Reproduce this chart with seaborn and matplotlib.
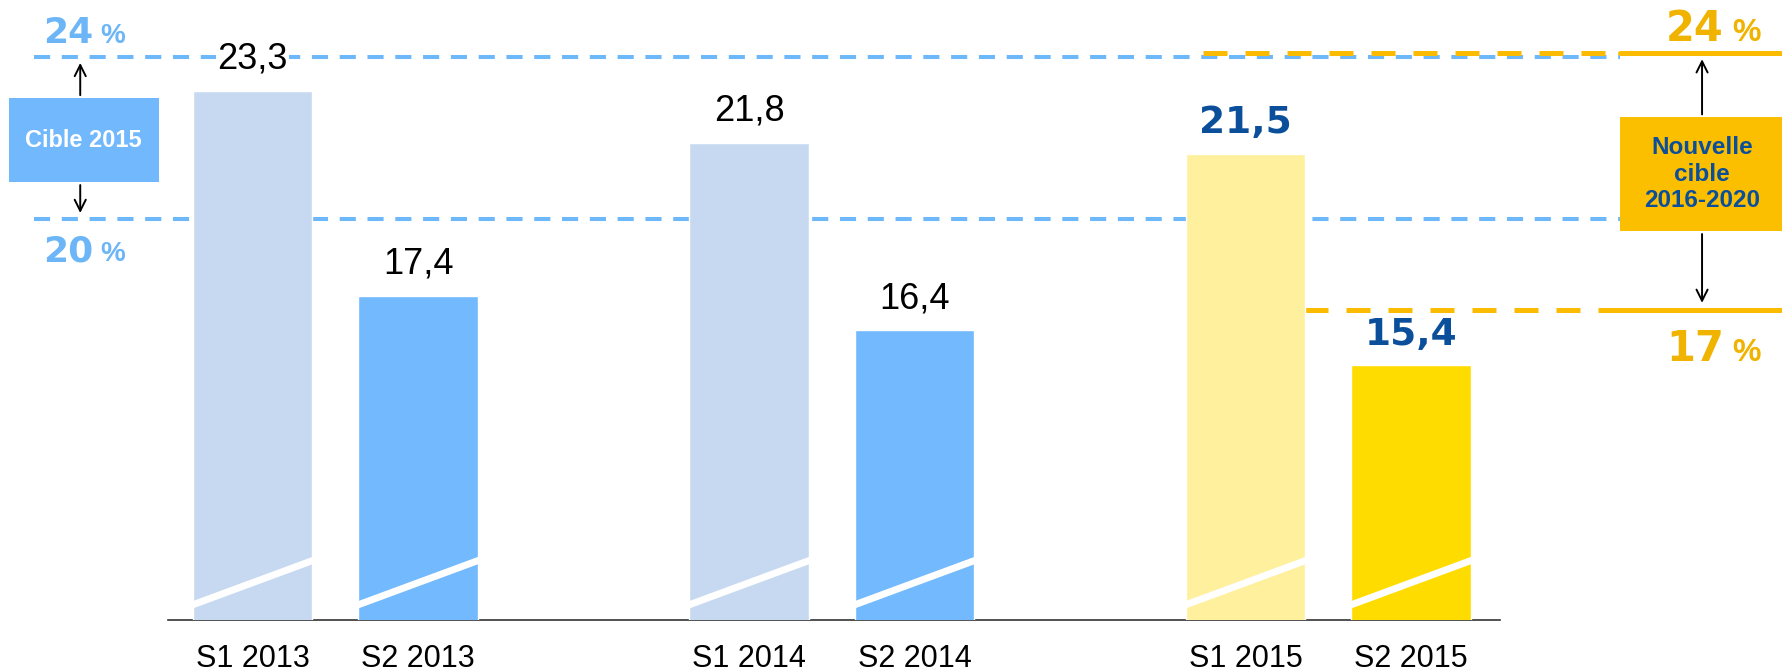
import numpy as np
import pandas as pd
import seaborn as sns
import matplotlib.pyplot as plt

# data
periods = ["S1 2013", "S2 2013", "S1 2014", "S2 2014", "S1 2015", "S2 2015"]
values = [23.3, 17.4, 21.8, 16.4, 21.5, 15.4]
bar_colors = ["#c6d9f1", "#72b9fd", "#c6d9f1", "#72b9fd", "#fef09c", "#ffdc00"]
highlight = [False, False, False, False, True, True]

# target bands (levels as drawn in the picture)
old_target_labels = ["24", "20"]
old_target_levels = [24.3, 19.6]
new_target_labels = ["24", "17"]
new_target_levels = [24.4, 17.0]

# categories with spacer slots between the years
order = ["S1 2013", "S2 2013", "_a", "S1 2014", "S2 2014", "_b", "S1 2015", "S2 2015"]

BLUE_LINE = "#6db7fb"
BLUE_TXT = "#6cb6f8"
ORANGE_LINE = "#fbbb00"
ORANGE_TXT = "#efb300"
DARK_BLUE = "#0b4f9a"

sns.set_style("white")
plt.rcParams["font.family"] = ["Liberation Sans", "DejaVu Sans"]

df = pd.DataFrame({"period": periods, "value": values})
palette = dict(zip(periods, bar_colors))

fig = plt.figure(figsize=(17.83, 6.71), dpi=100)
ax = fig.add_axes([0, 51 / 671, 1, 620 / 671])

sns.barplot(data=df, x="period", y="value", hue="period", order=order,
            palette=palette, width=0.72, dodge=False, legend=False,
            errorbar=None, saturation=1, zorder=3, ax=ax)

ax.set_xlim(-1.526, 9.248)
ax.set_ylim(8.05, 25.93)
xpos = [order.index(p) for p in periods]
ax.set_xticks(xpos, periods)
ax.tick_params(axis="x", length=0, pad=17, labelsize=22, labelcolor="black")
ax.set_yticks([])
ax.set_xlabel("")
ax.set_ylabel("")
for s in ["top", "right", "left"]:
    ax.spines[s].set_visible(False)
ax.spines["bottom"].set_bounds(-0.51, 7.54)
ax.spines["bottom"].set_color("#333333")
ax.spines["bottom"].set_linewidth(1.2)

# broken-axis slash on each bar
for x in xpos:
    ax.plot([x - 0.40, x + 0.40], [8.42, 9.83], color="white", lw=5,
            solid_capstyle="butt", zorder=4)

# value labels
for x, v, hl in zip(xpos, values, highlight):
    txt = f"{v:.1f}".replace(".", ",")
    if hl:
        ax.annotate(txt, xy=(x, v), xytext=(0, 22), textcoords="offset points",
                    ha="center", va="center", fontsize=27, fontweight="bold",
                    family="DejaVu Sans", color=DARK_BLUE, zorder=6,
                    bbox=dict(facecolor="white", edgecolor="none", pad=1))
    else:
        ax.annotate(txt, xy=(x, v), xytext=(0, 23), textcoords="offset points",
                    ha="center", va="center", fontsize=26, color="black",
                    zorder=6, bbox=dict(facecolor="white", edgecolor="none", pad=1))

# old target lines (blue dashed)
for lvl in old_target_levels:
    ax.plot([-1.32, 8.263], [lvl, lvl], color=BLUE_LINE, lw=2.9,
            dashes=(4, 2.9), zorder=1)

# new target lines (orange dashed then solid)
ax.plot([5.743, 8.263], [new_target_levels[0]] * 2, color=ORANGE_LINE, lw=3.6,
        dashes=(4.8, 3.6), zorder=2)
ax.plot([6.353, 8.263], [new_target_levels[1]] * 2, color=ORANGE_LINE, lw=3.6,
        dashes=(4.8, 3.6), zorder=2)
for lvl in new_target_levels:
    ax.plot([8.263, 9.3], [lvl, lvl], color=ORANGE_LINE, lw=3.6, zorder=2)

# percent labels
for lab, lvl, dy in zip(old_target_labels, old_target_levels, [10, -30]):
    ax.annotate(lab, xy=(-1.266, lvl), xytext=(0, dy), textcoords="offset points",
                ha="left", va="baseline", fontsize=26, fontweight="bold",
                family="DejaVu Sans", color=BLUE_TXT)
    ax.annotate("%", xy=(-1.266, lvl), xytext=(41, dy), textcoords="offset points",
                ha="left", va="baseline", fontsize=20, fontweight="bold",
                color=BLUE_TXT)
for lab, lvl, dy in zip(new_target_labels, new_target_levels, [9, -37]):
    ax.annotate(lab, xy=(8.54, lvl), xytext=(0, dy), textcoords="offset points",
                ha="left", va="baseline", fontsize=30, fontweight="bold",
                family="DejaVu Sans", color=ORANGE_TXT)
    ax.annotate("%", xy=(8.54, lvl), xytext=(48, dy), textcoords="offset points",
                ha="left", va="baseline", fontsize=23, fontweight="bold",
                color=ORANGE_TXT)

# target boxes and arrows (axes fraction)
ax.add_patch(plt.Rectangle((0.005, 0.706), 0.084, 0.136, transform=ax.transAxes,
                           facecolor="#72b8fc", edgecolor="none", zorder=5))
ax.text(0.047, 0.774, "Cible 2015", transform=ax.transAxes, ha="center",
        va="center", fontsize=17, fontweight="bold", color="white", zorder=6)
ax.add_patch(plt.Rectangle((0.9086, 0.627), 0.0914, 0.184, transform=ax.transAxes,
                           facecolor="#fbbf00", edgecolor="none", zorder=5))
ax.text(0.9546, 0.719, "Nouvelle\ncible\n2016-2020", transform=ax.transAxes,
        ha="center", va="center", fontsize=17.5, fontweight="bold",
        color=DARK_BLUE, linespacing=1.2, zorder=6)

arrow = dict(arrowstyle="->", color="black", lw=1.4, mutation_scale=20)
ax.annotate("", xy=(0.045, 0.903), xytext=(0.045, 0.842), xycoords="axes fraction",
            arrowprops=arrow)
ax.annotate("", xy=(0.045, 0.652), xytext=(0.045, 0.706), xycoords="axes fraction",
            arrowprops=arrow)
ax.annotate("", xy=(0.9546, 0.909), xytext=(0.9546, 0.811), xycoords="axes fraction",
            arrowprops=arrow)
ax.annotate("", xy=(0.9546, 0.507), xytext=(0.9546, 0.627), xycoords="axes fraction",
            arrowprops=arrow)

fig.savefig("out.png", dpi=100)
